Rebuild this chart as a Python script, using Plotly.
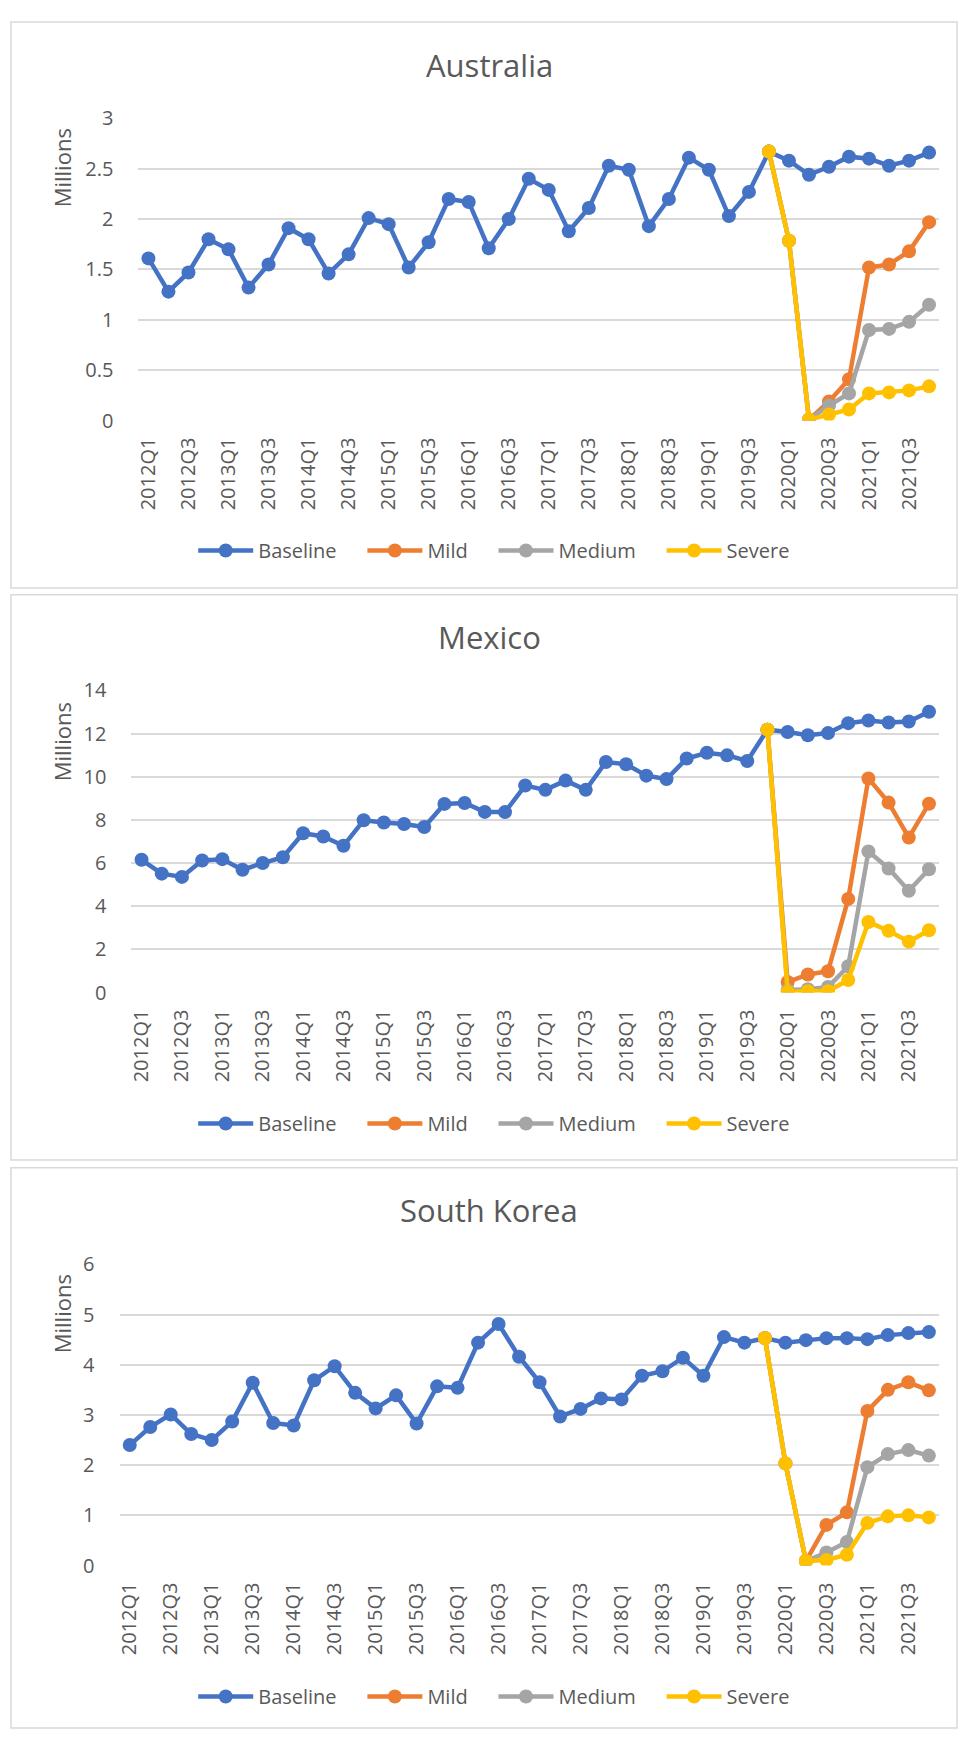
"""
Tourist arrivals by quarter, baseline vs covid scenarios (Australia, Mexico, South Korea).
"""
import plotly.graph_objects as go

W, H = 960, 1742

quarters = ["2012Q1", "2012Q2", "2012Q3", "2012Q4", "2013Q1", "2013Q2", "2013Q3", "2013Q4",
            "2014Q1", "2014Q2", "2014Q3", "2014Q4", "2015Q1", "2015Q2", "2015Q3", "2015Q4",
            "2016Q1", "2016Q2", "2016Q3", "2016Q4", "2017Q1", "2017Q2", "2017Q3", "2017Q4",
            "2018Q1", "2018Q2", "2018Q3", "2018Q4", "2019Q1", "2019Q2", "2019Q3", "2019Q4",
            "2020Q1", "2020Q2", "2020Q3", "2020Q4", "2021Q1", "2021Q2", "2021Q3", "2021Q4"]
# scenarios start at the last pre-covid quarter
scenario_quarters = quarters[31:]

aus_baseline = [1.61, 1.28, 1.47, 1.80, 1.70, 1.32, 1.55, 1.91, 1.80, 1.46, 1.65, 2.01, 1.95, 1.52,
                1.77, 2.20, 2.17, 1.71, 2.00, 2.40, 2.29, 1.88, 2.11, 2.53, 2.49, 1.93, 2.20, 2.61,
                2.49, 2.03, 2.27, 2.67, 2.58, 2.44, 2.52, 2.62, 2.60, 2.53, 2.58, 2.66]
aus_mild = [2.67, 1.785, 0.01, 0.19, 0.41, 1.52, 1.55, 1.68, 1.97]
aus_medium = [2.67, 1.785, 0.01, 0.15, 0.27, 0.90, 0.91, 0.98, 1.15]
aus_severe = [2.67, 1.785, 0.01, 0.06, 0.11, 0.27, 0.28, 0.30, 0.34]

mex_baseline = [6.15, 5.51, 5.36, 6.12, 6.18, 5.69, 6.00, 6.27, 7.38, 7.23, 6.80, 7.98, 7.88, 7.81,
                7.67, 8.74, 8.78, 8.37, 8.36, 9.59, 9.39, 9.82, 9.39, 10.68, 10.58, 10.05, 9.89,
                10.84, 11.11, 10.99, 10.73, 12.18, 12.07, 11.92, 12.02, 12.48, 12.60, 12.51, 12.56,
                13.01]
mex_mild = [12.18, 0.49, 0.84, 0.99, 4.34, 9.92, 8.80, 7.18, 8.75]
mex_medium = [12.18, 0.12, 0.16, 0.26, 1.22, 6.54, 5.75, 4.72, 5.71]
mex_severe = [12.18, 0.03, 0.06, 0.06, 0.58, 3.27, 2.86, 2.36, 2.89]

kor_baseline = [2.40, 2.76, 3.01, 2.62, 2.50, 2.87, 3.64, 2.84, 2.79, 3.69, 3.97, 3.44, 3.13, 3.39,
                2.83, 3.57, 3.54, 4.44, 4.81, 4.16, 3.65, 2.97, 3.12, 3.33, 3.31, 3.78, 3.87, 4.14,
                3.78, 4.55, 4.44, 4.53, 4.44, 4.49, 4.53, 4.53, 4.51, 4.59, 4.63, 4.65]
kor_mild = [4.53, 2.035, 0.09, 0.81, 1.06, 3.08, 3.50, 3.65, 3.49]
kor_medium = [4.53, 2.035, 0.09, 0.26, 0.47, 1.96, 2.22, 2.30, 2.19]
kor_severe = [4.53, 2.035, 0.09, 0.11, 0.215, 0.85, 0.98, 1.00, 0.96]

countries = ["Australia", "Mexico", "South Korea"]
y_max = [3, 14, 6]
y_step = [0.5, 2, 1]

series_names = ["Baseline", "Mild", "Medium", "Severe"]
colors = ["#4472C4", "#ED7D31", "#A5A5A5", "#FFC000"]

data = [
    (aus_baseline, aus_mild, aus_medium, aus_severe),
    (mex_baseline, mex_mild, mex_medium, mex_severe),
    (kor_baseline, kor_mild, kor_medium, kor_severe),
]

# pixel geometry of each panel (from the top of the page)
plot_left = [135, 128, 116]
plot_right = 939
plot_top = [106, 687, 1270]
plot_bottom = [413, 994, 1576]
box_top = [8, 590, 1172]
box_bottom = [583, 1164, 1741]
title_y = [52, 633, 1215]
label_y = [156, 739, 1320]
legend_y = [545, 1127, 1709]

FONT = "Open Sans"
GREY = "#595959"
PAD = "\u00a0" * 4   # widens each legend entry like Excel does


def px(x):
    return x / W


def py(y):
    return 1 - y / H


fig = go.Figure()

for i, (baseline, mild, medium, severe) in enumerate(data):
    n = "" if i == 0 else str(i + 1)
    xa, ya, lg = "x" + n, "y" + n, "legend" + n
    for name, color, vals in zip(series_names, colors, [baseline, mild, medium, severe]):
        xs = quarters if name == "Baseline" else scenario_quarters
        fig.add_trace(go.Scatter(
            x=xs, y=vals, name=name + PAD, mode="lines+markers",
            line=dict(color=color, width=4.5),
            marker=dict(color=color, size=14),
            xaxis=xa, yaxis=ya, legend=lg,
        ))

    fig.layout["xaxis" + n] = dict(
        domain=[px(plot_left[i]), px(plot_right)], anchor=ya,
        type="category", categoryorder="array", categoryarray=quarters,
        range=[-0.5, 39.5], tickmode="array", tickvals=quarters[::2],
        tickangle=-90, showgrid=False, zeroline=False, showline=False, ticks="",
        ticklabelstandoff=12,
        tickfont=dict(family=FONT, size=20, color=GREY),
    )
    fig.layout["yaxis" + n] = dict(
        domain=[py(plot_bottom[i]), py(plot_top[i])], anchor=xa,
        range=[0, y_max[i]], dtick=y_step[i], tick0=0,
        showgrid=True, gridcolor="#D9D9D9", gridwidth=1.5, zeroline=False,
        showline=False, ticks="", ticklabelstandoff=24,
        tickfont=dict(family=FONT, size=20, color=GREY),
    )
    fig.layout[lg] = dict(
        orientation="h", x=px(190), xanchor="left", y=py(legend_y[i]), yanchor="middle",
        font=dict(family=FONT, size=20, color=GREY), bgcolor="rgba(0,0,0,0)",
        itemwidth=55,
    )

    fig.add_annotation(text=countries[i], x=px(487.5), y=py(title_y[i]), xref="paper",
                       yref="paper", showarrow=False, xanchor="center", yanchor="middle",
                       font=dict(family=FONT, size=31, color=GREY))
    fig.add_annotation(text="Millions", x=px(58), y=py(label_y[i]), xref="paper",
                       yref="paper", showarrow=False, textangle=-90, xanchor="center",
                       yanchor="middle", font=dict(family=FONT, size=22, color=GREY))
    fig.add_shape(type="rect", xref="paper", yref="paper",
                  x0=px(7), x1=px(957), y0=py(box_bottom[i]), y1=py(box_top[i]),
                  line=dict(color="#D9D9D9", width=1.5), layer="below")

fig.update_layout(
    width=W, height=H, margin=dict(l=0, r=0, t=0, b=0),
    paper_bgcolor="white", plot_bgcolor="white", showlegend=True,
)

# page body has an 8px default margin; drop it so the figure fills the window exactly
fig.write_html("out.html", config={"displayModeBar": False},
               post_script="document.body.style.margin='0';")
